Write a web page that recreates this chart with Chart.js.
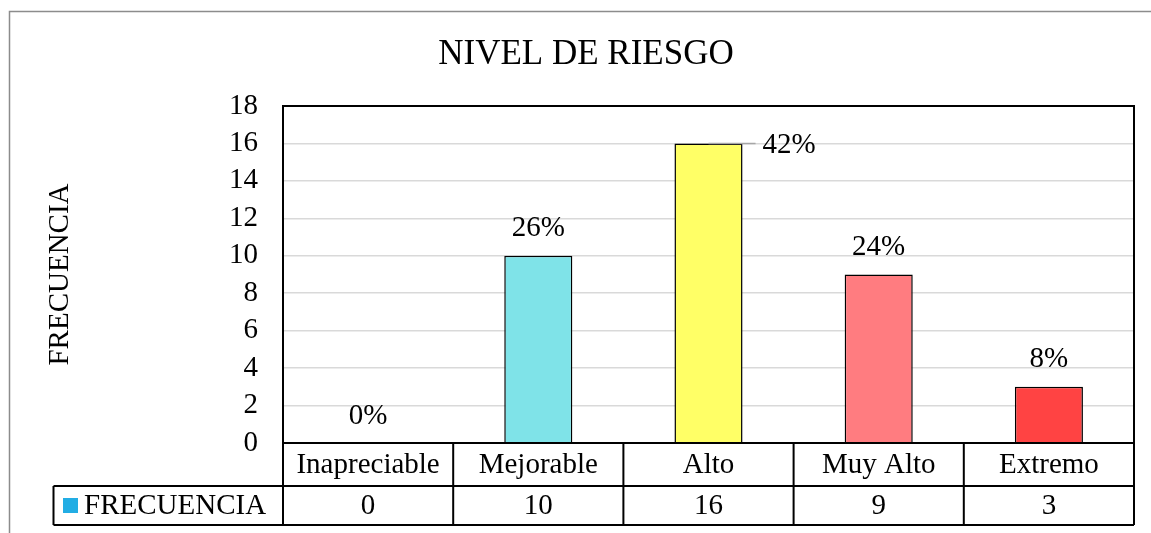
<!DOCTYPE html>
<html><head><meta charset="utf-8">
<script src="https://cdn.jsdelivr.net/npm/chart.js@4/dist/chart.umd.min.js"></script>
<style>html,body{margin:0;padding:0;background:#fff}#wrap{width:1151px;height:533px;position:relative}</style>
</head><body><div id="wrap"><canvas id="c" width="1151" height="533"></canvas></div>
<script>
const chartTitle = 'NIVEL DE RIESGO';
const seriesName = 'FRECUENCIA';
const categories = ['Inapreciable', 'Mejorable', 'Alto', 'Muy Alto', 'Extremo'];
const frecuencia = [0, 10, 16, 9, 3];
const percentLabels = ['0%', '26%', '42%', '24%', '8%'];
const barColors = ['#7fe3e8', '#7fe3e8', '#ffff66', '#ff7c80', '#ff4343'];
const legendColor = '#22ade4';
const yMin = 0, yMax = 18, yStep = 2;

const FONT = '"Liberation Serif", "Times New Roman", serif';

const framePlugin = {
  id: 'frame',
  beforeDraw(chart) {
    const ctx = chart.ctx;
    ctx.save();
    ctx.fillStyle = '#fff';
    ctx.fillRect(0, 0, chart.width, chart.height);
    ctx.strokeStyle = '#8c8c8c';
    ctx.lineWidth = 1.5;
    ctx.beginPath();
    ctx.moveTo(9.5, chart.height);
    ctx.lineTo(9.5, 11.5);
    ctx.lineTo(chart.width, 11.5);
    ctx.stroke();
    ctx.restore();
  }
};

const labelPlugin = {
  id: 'pctLabels',
  afterDatasetsDraw(chart) {
    const ctx = chart.ctx;
    const ca = chart.chartArea;
    const meta = chart.getDatasetMeta(0);
    ctx.save();
    ctx.font = '29px ' + FONT;
    ctx.fillStyle = '#000';
    ctx.textBaseline = 'middle';
    meta.data.forEach((bar, i) => {
      const txt = percentLabels[i];
      let ly = bar.y - 27;
      if (ly - 15 < ca.top) {
        // label pushed to the right with a leader line
        const half = bar.width / 2;
        ctx.strokeStyle = '#a6a6a6';
        ctx.lineWidth = 1.5;
        ctx.beginPath();
        ctx.moveTo(bar.x, bar.y);
        ctx.lineTo(bar.x + half + 13, bar.y);
        ctx.stroke();
        ctx.textAlign = 'left';
        ctx.fillText(txt, bar.x + half + 20, bar.y + 2);
      } else {
        ctx.textAlign = 'center';
        ctx.fillText(txt, bar.x, ly);
      }
    });
    ctx.restore();
  }
};

const tablePlugin = {
  id: 'dataTable',
  afterDraw(chart) {
    const ctx = chart.ctx;
    const ca = chart.chartArea;
    const xs = chart.scales.x;
    const n = categories.length;
    const w = (ca.right - ca.left) / n;
    const r0 = ca.bottom, r1 = ca.bottom + 43, r2 = ca.bottom + 82;
    const legLeft = 53.5;
    ctx.save();
    // plot area box
    ctx.strokeStyle = '#000';
    ctx.lineWidth = 2;
    ctx.strokeRect(ca.left, ca.top, ca.right - ca.left, ca.bottom - ca.top);
    // table lines
    ctx.beginPath();
    ctx.moveTo(ca.left, r0); ctx.lineTo(ca.right, r0);
    ctx.moveTo(legLeft, r1); ctx.lineTo(ca.right, r1);
    ctx.moveTo(legLeft, r2); ctx.lineTo(ca.right, r2);
    ctx.moveTo(legLeft, r1); ctx.lineTo(legLeft, r2);
    for (let i = 0; i <= n; i++) {
      const x = xs.getPixelForValue(Math.min(i, n - 1)) + (i === n ? w / 2 : -w / 2);
      ctx.moveTo(x, r0); ctx.lineTo(x, r2);
    }
    ctx.stroke();
    // texts
    ctx.font = '29px ' + FONT;
    ctx.fillStyle = '#000';
    ctx.textAlign = 'center';
    ctx.textBaseline = 'middle';
    categories.forEach((c, i) => {
      const x = xs.getPixelForValue(i);
      ctx.fillText(c, x, (r0 + r1) / 2 + 1);
      ctx.fillText(String(frecuencia[i]), x, (r1 + r2) / 2 + 1);
    });
    // legend key
    ctx.fillStyle = legendColor;
    ctx.fillRect(63, (r1 + r2) / 2 - 7.5, 15, 15);
    ctx.fillStyle = '#000';
    ctx.textAlign = 'left';
    ctx.fillText(seriesName, 84, (r1 + r2) / 2 + 1);
    ctx.restore();
  }
};

new Chart(document.getElementById('c'), {
  type: 'bar',
  data: {
    labels: categories,
    datasets: [{
      label: seriesName,
      data: frecuencia,
      backgroundColor: barColors,
      borderColor: '#000',
      borderWidth: 1.5,
      barPercentage: 0.4,
      categoryPercentage: 1.0
    }]
  },
  options: {
    responsive: false,
    animation: false,
    devicePixelRatio: 1,
    layout: { padding: { left: 38, right: 17, top: 0, bottom: 90 } },
    plugins: {
      legend: { display: false },
      tooltip: { enabled: false },
      title: {
        display: true,
        text: chartTitle,
        color: '#000',
        font: { family: FONT, size: 35, weight: 'normal' },
        padding: { top: 34, bottom: 30 }
      }
    },
    scales: {
      x: { display: false },
      y: {
        min: yMin, max: yMax,
        afterFit(scale) { scale.width = 245; },
        ticks: { stepSize: yStep, autoSkip: false, color: '#000', padding: 25, font: { family: FONT, size: 29 } },
        grid: { color: '#d9d9d9', lineWidth: 1.5, drawTicks: false },
        border: { display: false },
        title: {
          display: true, text: seriesName, color: '#000',
          font: { family: FONT, size: 29 },
          padding: { top: 5, bottom: 0 }
        }
      }
    }
  },
  plugins: [framePlugin, labelPlugin, tablePlugin]
});
</script></body></html>
